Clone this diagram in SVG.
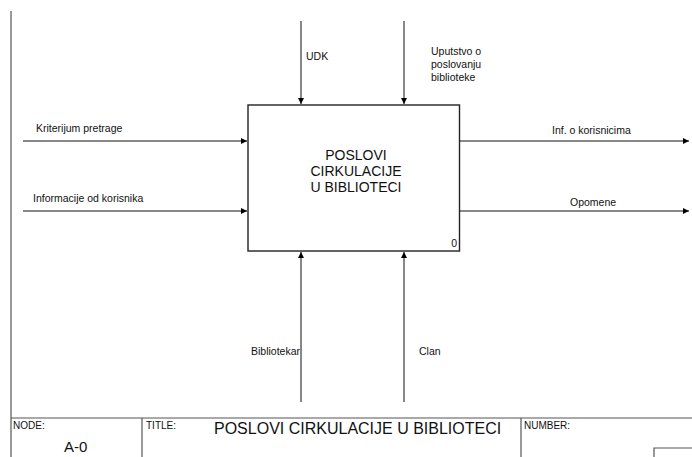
<svg xmlns="http://www.w3.org/2000/svg" width="692" height="457" viewBox="0 0 692 457">
<defs>
<marker id="ah" viewBox="0 0 10 10" refX="10" refY="5" markerWidth="7" markerHeight="6" markerUnits="userSpaceOnUse" orient="auto">
<path d="M0,0 L10,5 L0,10 Z" fill="#000"/>
</marker>
</defs>
<style>
text{font-family:"Liberation Sans",Arial,sans-serif;fill:#111}
.lbl{font-size:10.5px}
.frame{stroke:#555;stroke-width:1.2;fill:none}
.arr{stroke:#111;stroke-width:1;fill:none;marker-end:url(#ah)}
.box{stroke:#222;stroke-width:1.4;fill:#fff}
.small{font-size:10px}
</style>
<rect width="692" height="457" fill="#fff"/>
<g id="frame">
<line class="frame" x1="11" y1="11" x2="11" y2="457"/>
<line class="frame" x1="11" y1="418" x2="692" y2="418"/>
<line class="frame" x1="142" y1="418" x2="142" y2="457"/>
<line class="frame" x1="521" y1="418" x2="521" y2="457"/>
<polyline class="frame" points="654,457 654,448 692,448"/>
<text class="small" x="13" y="429">NODE:</text>
<text x="64" y="451.5" font-size="15">A-0</text>
<text class="small" x="146" y="429">TITLE:</text>
<text x="214" y="434" font-size="16">POSLOVI CIRKULACIJE U BIBLIOTECI</text>
<text class="small" x="524" y="429">NUMBER:</text>
</g>
<g id="connectors">
<line class="arr" x1="301" y1="21" x2="301" y2="104"/>
<line class="arr" x1="404" y1="21" x2="404" y2="104"/>
<line class="arr" x1="23" y1="141" x2="247" y2="141"/>
<line class="arr" x1="23" y1="211" x2="247" y2="211"/>
<line class="arr" x1="460" y1="141" x2="689" y2="141"/>
<line class="arr" x1="460" y1="211" x2="689" y2="211"/>
<line class="arr" x1="301" y1="402" x2="301" y2="252"/>
<line class="arr" x1="404" y1="402" x2="404" y2="252"/>
<text class="lbl" x="306" y="60">UDK</text>
<text class="lbl" x="431" y="55">Uputstvo o</text>
<text class="lbl" x="431" y="68">poslovanju</text>
<text class="lbl" x="431" y="81">biblioteke</text>
<text class="lbl" x="36" y="132">Kriterijum pretrage</text>
<text class="lbl" x="33" y="202">Informacije od korisnika</text>
<text class="lbl" x="552" y="134">Inf. o korisnicima</text>
<text class="lbl" x="570" y="206">Opomene</text>
<text class="lbl" x="300" y="355" text-anchor="end">Bibliotekar</text>
<text class="lbl" x="419" y="355">Clan</text>
</g>
<g id="node-A0">
<rect class="box" x="248" y="105" width="211.5" height="146"/>
<text x="356" y="160" font-size="14" text-anchor="middle">POSLOVI</text>
<text x="356" y="176" font-size="14" text-anchor="middle">CIRKULACIJE</text>
<text x="356" y="192" font-size="14" text-anchor="middle">U BIBLIOTECI</text>
<text class="lbl" x="457" y="247" text-anchor="end">0</text>
</g>
</svg>
